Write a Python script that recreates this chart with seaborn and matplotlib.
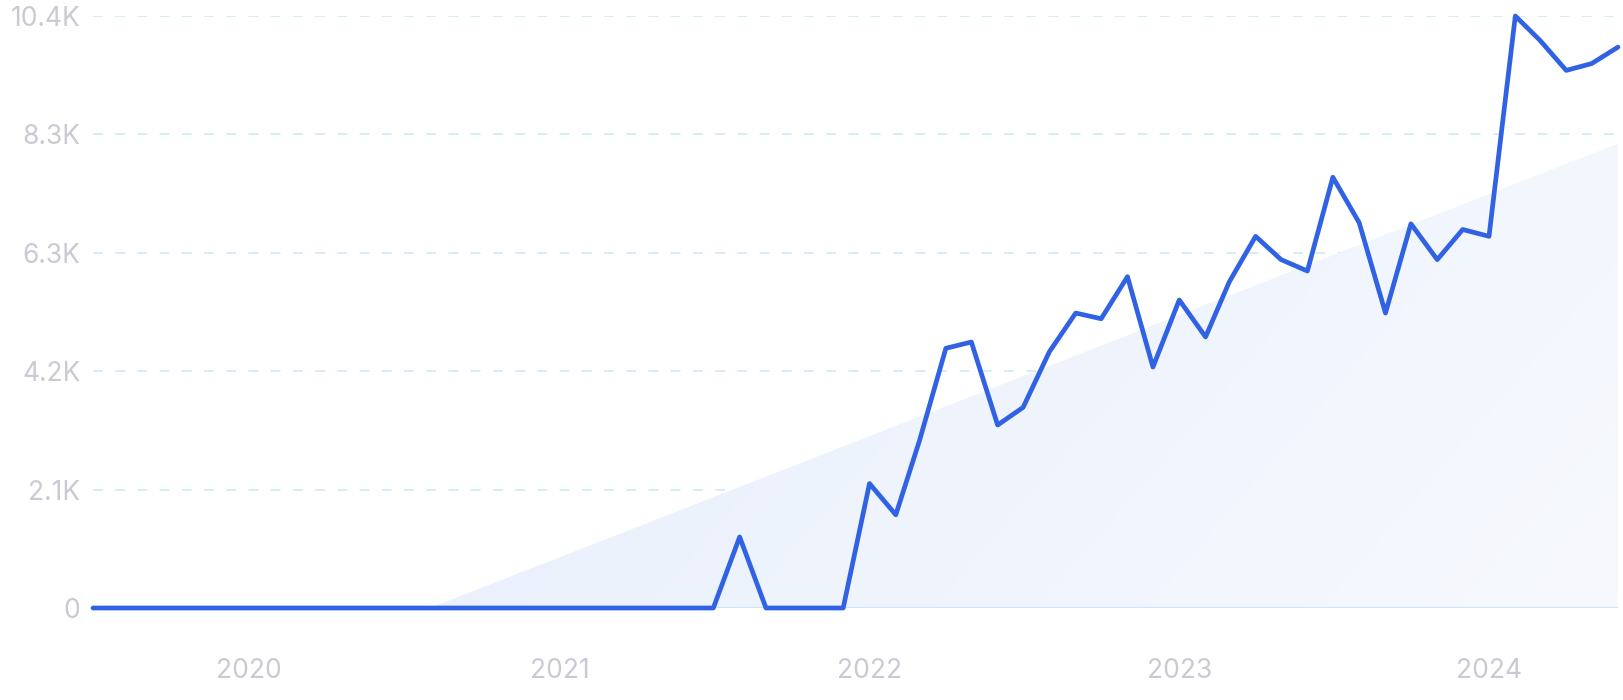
import matplotlib
matplotlib.use("Agg")
import matplotlib.pyplot as plt
from matplotlib.colors import LinearSegmentedColormap
import numpy as np
import pandas as pd
import seaborn as sns

# monthly search volume, Jul 2019 - Jun 2024
months = pd.date_range("2019-07-01", periods=60, freq="MS")
volume = [0] * 25 + [1250] + [0] * 4 + [
    2190, 1640, 2950, 4570, 4680, 3220, 3530, 4510, 5190, 5090,
    5830, 4240, 5420, 4770, 5740, 6540, 6130, 5930, 7580, 6780,
    5190, 6760, 6130, 6660, 6540, 10417, 9990, 9460, 9580, 9870,
]

# trend wedge (start and end)
trend_dates = pd.to_datetime(["2020-08-01", "2024-06-01"])
trend_vals = [0, 8170]

ytick_vals = [0, 2083, 4167, 6250, 8333, 10417]
ytick_labels = ["0", "2.1K", "4.2K", "6.3K", "8.3K", "10.4K"]
year_ticks = pd.to_datetime(["2020-01-01", "2021-01-01", "2022-01-01", "2023-01-01", "2024-01-01"])
year_labels = ["2020", "2021", "2022", "2023", "2024"]

df = pd.DataFrame({"month": months, "volume": volume})

sns.set_style("white")
plt.rcParams["font.family"] = ["Inter", "DejaVu Sans"]
plt.rcParams["lines.scale_dashes"] = False

fig = plt.figure(figsize=(16.24, 7), dpi=100)
ax = fig.add_axes([93 / 1624, 92 / 700, (1618 - 93) / 1624, (608 - 16) / 700])

# gradient filled trend wedge
poly = ax.fill_between(trend_dates, trend_vals, 0, color="none", lw=0)
cmap = LinearSegmentedColormap.from_list("wedge", ["#e2ecfb", "#f7f9fe"])
gx, gy = np.meshgrid(np.linspace(0, 1, 300), np.linspace(0, 1, 150))
grad = 0.75 * gx + 0.25 * (1 - gy)
img = ax.imshow(grad, cmap=cmap, extent=[0, 1, 0, 1], transform=ax.transAxes,
                aspect="auto", origin="lower", zorder=1)
img.set_clip_path(poly.get_paths()[0], transform=ax.transData)

for v in ytick_vals[1:]:
    ax.axhline(v, color="#d2eaf8", lw=1.3, linestyle=(0, (7, 9)), zorder=0)
ax.axhline(0, color="#cae6fa", lw=1.6, zorder=2)

sns.lineplot(data=df, x="month", y="volume", ax=ax, color="#3062e3", zorder=3)
trend_line = ax.lines[-1]
trend_line.set_linewidth(3.4)
trend_line.set_clip_on(False)
trend_line.set_solid_joinstyle("round")
trend_line.set_solid_capstyle("round")

ax.set_xlim(months[0], months[-1])
ax.set_ylim(0, 10417)
ax.set_yticks(ytick_vals)
ax.set_yticklabels(ytick_labels)
ax.set_xticks(year_ticks)
ax.set_xticklabels(year_labels)
ax.tick_params(axis="y", length=0, pad=9, labelsize=19, labelcolor="#c9cad3")
ax.tick_params(axis="x", length=0, pad=36, labelsize=19, labelcolor="#c9cad3")
ax.set_xlabel("")
ax.set_ylabel("")
for s in ax.spines.values():
    s.set_visible(False)
ax.grid(False)

fig.savefig("out.png", dpi=100)
plt.close()
